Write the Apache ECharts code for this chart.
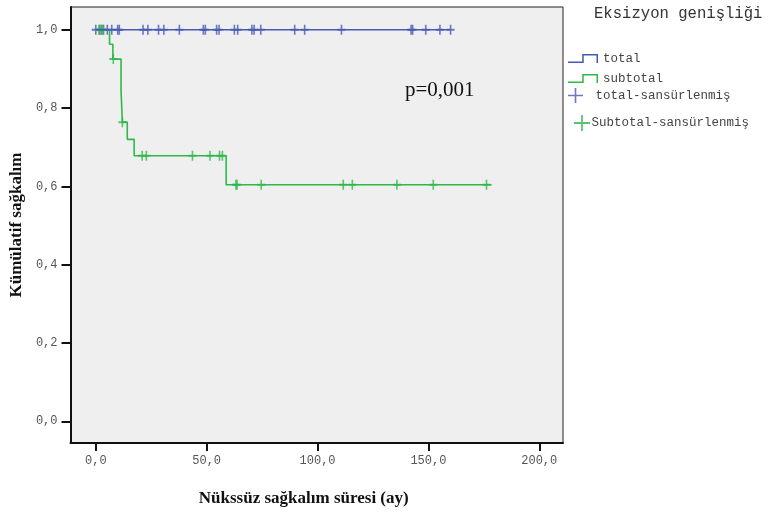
<!DOCTYPE html>
<html>
<head>
<meta charset="utf-8">
<script src="https://cdn.jsdelivr.net/npm/echarts@6/dist/echarts.min.js"></script>
<style>
  html, body { margin: 0; padding: 0; background: #fff; }
  #chart { width: 768px; height: 513px; }
</style>
</head>
<body>
<div id="chart"></div>
<script>
// total group: no events, only censored cases (survival stays at 1,0)
var totalSurvival = 1.0;
var totalEndTime = 160.0;
var totalCensorTimes = [0, 1.6, 2.5, 3.5, 5.2, 7.2, 9.9, 10.6, 21.3, 23.5, 28.3, 30.7, 37.7,
  48.5, 49.4, 54.5, 55.6, 62.5, 64.0, 70.4, 71.4, 74.4, 89.7, 94.2, 110.8,
  142.2, 142.9, 148.8, 155.2, 160.0];

// subtotal group: step curve
var subtotalStepTimes = [0, 6.2, 7.7, 11.4, 12.0, 14.2, 17.3, 58.8, 178.5];
var subtotalStepSurv = [1.0, 0.963, 0.925, 0.842, 0.764, 0.720, 0.678, 0.604, 0.604];
var subtotalCensorTimes = [1.6, 2.5, 3.2, 7.9, 12.0, 20.9, 22.8, 43.6, 51.5, 55.8, 57.1,
  63.2, 63.7, 74.6, 111.6, 115.7, 135.8, 152.2, 176.2];
var subtotalCensorSurv = [1.0, 1.0, 1.0, 0.925, 0.764, 0.678, 0.678, 0.678, 0.678, 0.678, 0.678,
  0.604, 0.604, 0.604, 0.604, 0.604, 0.604, 0.604, 0.604];

var xTicks = [0, 50, 100, 150, 200];
var yTicks = [0, 0.2, 0.4, 0.6, 0.8, 1.0];

var blue = '#4659b3';
var green = '#2fb84a';
var mono = '"Liberation Mono", "DejaVu Sans Mono", monospace';
var serif = '"Liberation Serif", "DejaVu Serif", serif';

var plusPath = 'path://M4,0 H6 V4 H10 V6 H6 V10 H4 V6 H0 V4 H4 Z';
var thinPlusPath = 'path://M4.45,0 H5.55 V4.45 H10 V5.55 H5.55 V10 H4.45 V5.55 H0 V4.45 H4.45 Z';
var stepPath = 'path://M0,7.5 H14.25 V0 H30 V9 H28.5 V1.5 H15.75 V9 H0 Z';

function fmt(v) {
  return v.toFixed(1).replace('.', ',');
}

var chart = echarts.init(document.getElementById('chart'));

var legendText = { fontFamily: mono, fontSize: 12.5, color: '#444' };

var option = {
  animation: false,
  backgroundColor: '#fff',
  title: {
    text: 'Eksizyon genişliği',
    left: 589,
    top: 1,
    textStyle: { fontFamily: mono, fontSize: 15.6, fontWeight: 'normal', color: '#333' }
  },
  graphic: [{
    type: 'text',
    left: 405,
    top: 80,
    style: { text: 'p=0,001', font: '21px ' + serif, fill: '#111' }
  }],
  legend: [
    {
      data: [{ name: 'total', icon: stepPath }],
      left: 563, top: 47, itemWidth: 30, itemHeight: 9,
      textStyle: Object.assign({ padding: [2, 0, 0, 0] }, legendText),
      itemStyle: { color: blue }
    },
    {
      data: [{ name: 'subtotal', icon: stepPath }],
      left: 563, top: 67, itemWidth: 30, itemHeight: 9,
      textStyle: Object.assign({ padding: [2, 0, 0, 0] }, legendText),
      itemStyle: { color: green }
    },
    {
      data: [{ name: 'total-sansürlenmiş', icon: thinPlusPath }],
      left: 563, top: 83, itemWidth: 30, itemHeight: 15,
      textStyle: legendText,
      itemStyle: { color: blue }
    },
    {
      data: [{ name: 'Subtotal-sansürlenmiş', icon: thinPlusPath }],
      left: 569, top: 110, itemWidth: 17, itemHeight: 16,
      textStyle: Object.assign({ padding: [0, 0, 0, -4] }, legendText),
      itemStyle: { color: green }
    }
  ],
  grid: {
    left: 65,
    right: 205,
    top: 7,
    bottom: 70,
    show: true,
    backgroundColor: '#efefef',
    borderColor: '#222',
    borderWidth: 1
  },
  xAxis: {
    type: 'value',
    min: -11.4,
    max: 210.7,
    name: 'Nükssüz sağkalım süresi (ay)',
    nameLocation: 'middle',
    nameGap: 47,
    nameTextStyle: { fontFamily: serif, fontSize: 17, fontWeight: 'bold', color: '#111', padding: [0, 26, 0, 0] },
    axisLine: { show: true, onZero: false, lineStyle: { color: '#111', width: 2 } },
    axisTick: { show: true, customValues: xTicks, length: 8, lineStyle: { color: '#111', width: 2 } },
    axisLabel: {
      customValues: xTicks,
      margin: 12,
      fontFamily: mono,
      fontSize: 12,
      color: '#555',
      formatter: fmt
    },
    splitLine: { show: false }
  },
  yAxis: {
    type: 'value',
    min: -0.0554,
    max: 1.058,
    name: 'Kümülatif sağkalım',
    nameLocation: 'middle',
    nameGap: 34,
    nameTextStyle: { fontFamily: serif, fontSize: 17, fontWeight: 'bold', color: '#111' },
    axisLine: { show: true, onZero: false, lineStyle: { color: '#111', width: 2 } },
    axisTick: { show: true, customValues: yTicks, length: 9, lineStyle: { color: '#111', width: 2 } },
    axisLabel: {
      customValues: yTicks,
      margin: 13,
      fontFamily: mono,
      fontSize: 12,
      color: '#555',
      formatter: fmt
    },
    splitLine: { show: false }
  },
  series: [
    {
      name: 'subtotal',
      type: 'line',
      step: 'end',
      showSymbol: false,
      symbol: 'none',
      data: subtotalStepTimes.map(function (t, i) { return [t, subtotalStepSurv[i]]; }),
      lineStyle: { color: green, width: 1.6 },
      itemStyle: { color: green }
    },
    {
      name: 'total',
      type: 'line',
      step: 'end',
      showSymbol: false,
      symbol: 'none',
      data: [[0, totalSurvival], [totalEndTime, totalSurvival]],
      lineStyle: { color: blue, width: 1.6 },
      itemStyle: { color: blue }
    },
    {
      name: 'total-sansürlenmiş',
      type: 'scatter',
      symbol: plusPath,
      symbolSize: [8, 10],
      data: totalCensorTimes.map(function (t) { return [t, totalSurvival]; }),
      itemStyle: { color: blue }
    },
    {
      name: 'Subtotal-sansürlenmiş',
      type: 'scatter',
      symbol: plusPath,
      symbolSize: [8, 10],
      data: subtotalCensorTimes.map(function (t, i) { return [t, subtotalCensorSurv[i]]; }),
      itemStyle: { color: green }
    }
  ]
};

chart.setOption(option);
</script>
</body>
</html>
